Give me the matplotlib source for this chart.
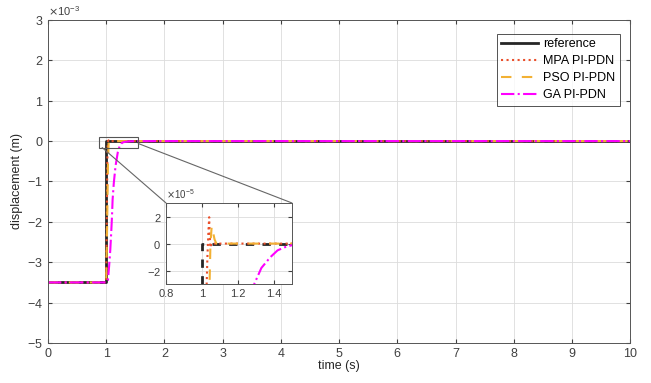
import matplotlib.pyplot as plt
from matplotlib.patches import Rectangle, ConnectionPatch
from matplotlib.ticker import ScalarFormatter

plt.rcParams['font.family'] = ['Liberation Sans', 'DejaVu Sans']

# step responses (displacement in m)
t_ref = [0, 1.0, 1.0, 10]
y_ref = [-3.5e-3, -3.5e-3, 0.0, 0.0]

t_mpa = [0, 1.0, 1.01, 1.02, 1.026, 1.03, 1.036, 1.04, 1.043, 1.047, 1.05, 10]
y_mpa = [-3.5e-3, -3.5e-3, -2.0e-3, -0.5e-3, -3e-5, -1e-5, 1e-5, 1.95e-5,
         0.6e-5, -0.3e-5, 0.0, 0.0]

t_pso = [0, 1.0, 1.015, 1.03, 1.042, 1.047, 1.054, 1.062, 1.07, 1.08, 10]
y_pso = [-3.5e-3, -3.5e-3, -2.2e-3, -0.6e-3, -3e-5, 0.0, 1.3e-5, 0.8e-5,
         0.3e-5, 0.0, 0.0]

t_ga = [0, 1.0, 1.03, 1.05, 1.07, 1.085, 1.1, 1.11, 1.13, 1.16, 1.2, 1.23,
        1.26, 1.29, 1.33, 1.38, 1.42, 1.46, 1.5, 1.6, 10]
y_ga = [-3.5e-3, -3.5e-3, -3.45e-3, -3.1e-3, -2.7e-3, -2.3e-3, -1.85e-3,
        -1.45e-3, -1.05e-3, -0.62e-3, -0.27e-3, -0.13e-3, -0.06e-3, -3e-5,
        -1.8e-5, -1.0e-5, -0.5e-5, -0.27e-5, -0.12e-5, -0.03e-5, 0.0]

c_mpa = '#ea4f2b'
c_pso = '#f2b134'
c_ga = '#ff00ff'
gray = '#262626'

fig = plt.figure(figsize=(6.51, 3.83), dpi=100)
ax = fig.add_axes([0.0737, 0.1044, 0.8943, 0.8436])


def style(a, fs):
    a.grid(True, color='#dcdcdc', lw=0.6)
    a.set_axisbelow(True)
    a.tick_params(direction='in', length=3, labelsize=fs, colors='#404040',
                  top=True, right=True)
    for s in a.spines.values():
        s.set_color('#555555')
        s.set_linewidth(0.7)
    fmt = ScalarFormatter(useMathText=True)
    fmt.set_powerlimits((0, 0))
    a.yaxis.set_major_formatter(fmt)
    a.yaxis.get_offset_text().set_fontsize(fs - 1)
    a.yaxis.get_offset_text().set_color('#404040')


ax.plot(t_ref, y_ref, color=gray, lw=2, label='reference')
ax.plot(t_mpa, y_mpa, color=c_mpa, lw=1.5, ls=':', label='MPA PI-PDN')
ax.plot(t_pso, y_pso, color=c_pso, lw=1.5, ls=(0, (5, 5)), label='PSO PI-PDN')
ax.plot(t_ga, y_ga, color=c_ga, lw=1.5, ls='-.', label='GA PI-PDN')

ax.set_xlim(0, 10)
ax.set_ylim(-5e-3, 3e-3)
ax.set_xticks(range(0, 11))
ax.set_yticks([i * 1e-3 for i in range(-5, 4)])
style(ax, 9)
ax.set_xlabel('time (s)', fontsize=9, color='#262626', labelpad=0)
ax.set_ylabel('displacement (m)', fontsize=9, color='#262626', labelpad=3)

leg = ax.legend(loc='upper right', fontsize=9, handlelength=3.0,
                frameon=True, fancybox=False, borderpad=0.35,
                labelspacing=0.4, handletextpad=0.4, borderaxespad=0,
                bbox_to_anchor=(0.9825, 0.957))
leg.get_frame().set_edgecolor('#262626')
leg.get_frame().set_linewidth(0.7)

# zoom box and inset
ax.add_patch(Rectangle((0.88, -0.16e-3), 0.67, 0.26e-3, fill=False,
                       ec='#555555', lw=0.8, zorder=5))

ins = fig.add_axes([0.255, 0.258, 0.1935, 0.212])
ins.plot(t_ref, y_ref, color=gray, lw=2, ls=(0, (3, 3)))
ins.plot(t_mpa, y_mpa, color=c_mpa, lw=1.5, ls=':')
ins.plot(t_pso, y_pso, color=c_pso, lw=1.5, ls=(0, (5, 5)))
ins.plot(t_ga, y_ga, color=c_ga, lw=1.5, ls='-.')
ins.set_xlim(0.8, 1.5)
ins.set_ylim(-3e-5, 3e-5)
ins.set_xticks([0.8, 1.0, 1.2, 1.4])
ins.set_xticklabels(['0.8', '1', '1.2', '1.4'])
ins.set_yticks([-2e-5, 0, 2e-5])
style(ins, 8)

for xa, ya, xb, yb in [(0.93, -0.16e-3, 0.8, 3e-5), (1.55, -0.06e-3, 1.5, 3e-5)]:
    con = ConnectionPatch(xyA=(xa, ya), coordsA=ax.transData,
                          xyB=(xb, yb), coordsB=ins.transData,
                          color='#666666', lw=0.8)
    fig.add_artist(con)

fig.savefig('out.png', dpi=100)
